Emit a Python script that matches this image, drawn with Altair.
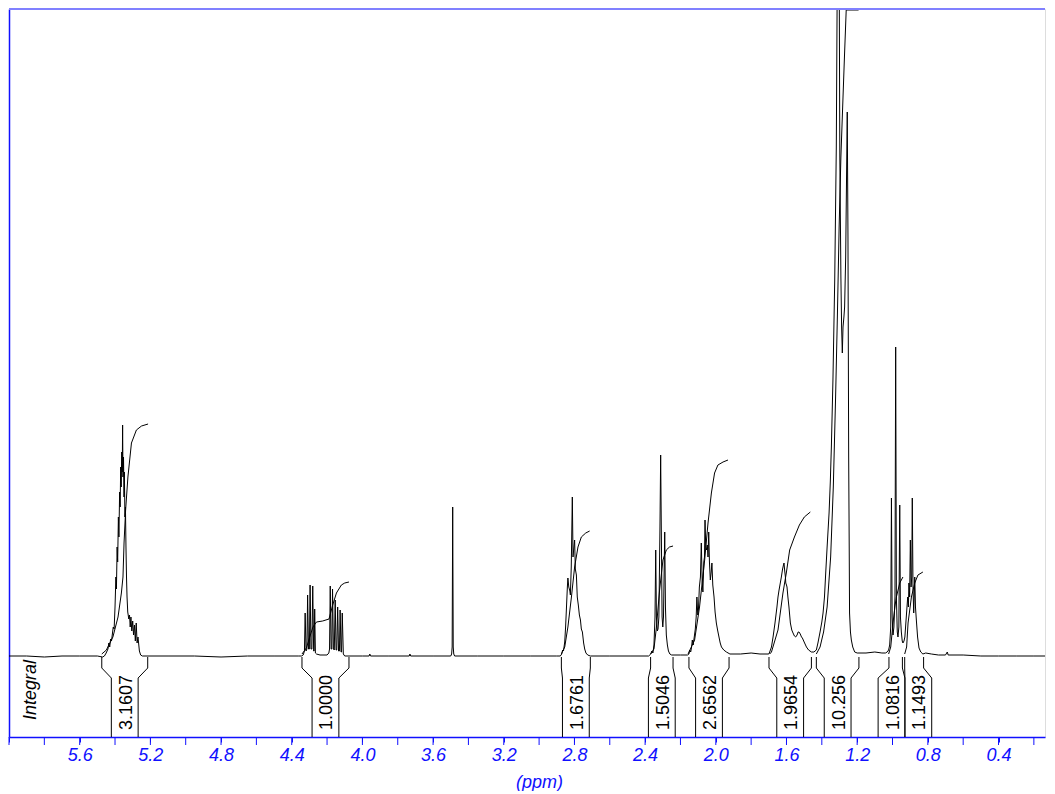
import altair as alt
import pandas as pd

# ---------------- data ----------------
spec_ppm = [6.00, 5.90, 5.80, 5.70, 5.60, 5.50,
            5.47, 5.46, 5.45, 5.44, 5.435, 5.43, 5.425, 5.42, 5.41, 5.405, 5.40, 5.395, 5.392, 5.388,
            5.385, 5.381, 5.378, 5.374, 5.371, 5.368, 5.365, 5.362, 5.359, 5.357, 5.355, 5.352, 5.349,
            5.347, 5.344, 5.341, 5.338, 5.335, 5.332, 5.328, 5.322, 5.318, 5.314, 5.310, 5.305, 5.300,
            5.295, 5.290, 5.285, 5.280, 5.275, 5.270, 5.262, 5.255, 5.245,
            5.10, 4.95, 4.80, 4.65, 4.50, 4.36,
            4.345, 4.335, 4.328, 4.324, 4.319, 4.314, 4.310, 4.305, 4.300, 4.296, 4.291, 4.286, 4.281,
            4.276, 4.273, 4.270, 4.266, 4.26, 4.24, 4.20, 4.19, 4.186, 4.182, 4.177, 4.173, 4.169, 4.164,
            4.159, 4.154, 4.149, 4.145, 4.140, 4.135, 4.130, 4.126, 4.121, 4.118, 4.114, 4.108, 4.10,
            4.00, 3.962, 3.958, 3.954, 3.85, 3.735, 3.731, 3.727, 3.60,
            3.50, 3.495, 3.492, 3.489, 3.486, 3.483, 3.478,
            3.35, 3.20, 3.05, 2.90,
            2.88, 2.872, 2.867, 2.862, 2.855, 2.850, 2.845, 2.840, 2.837, 2.832, 2.826, 2.823, 2.818,
            2.812, 2.808, 2.804, 2.799, 2.795, 2.789, 2.784, 2.778, 2.772, 2.766, 2.761, 2.755, 2.748,
            2.742, 2.735, 2.725, 2.71,
            2.60, 2.48, 2.38,
            2.368, 2.362, 2.356, 2.350, 2.344, 2.340, 2.336, 2.331, 2.327, 2.322, 2.316, 2.312, 2.308,
            2.304, 2.300, 2.296, 2.289, 2.285, 2.280, 2.274, 2.268, 2.260, 2.25, 2.20,
            2.16, 2.152, 2.148, 2.142, 2.137, 2.133, 2.128, 2.122, 2.116, 2.111, 2.107, 2.102, 2.098,
            2.093, 2.087, 2.082, 2.077, 2.073, 2.068, 2.064, 2.061, 2.057, 2.053, 2.048, 2.044, 2.040,
            2.036, 2.031, 2.026, 2.022, 2.017, 2.010, 2.004, 1.997, 1.990, 1.982, 1.975, 1.968, 1.955,
            1.940, 1.92, 1.86, 1.80, 1.75, 1.70,
            1.695, 1.685, 1.676, 1.665, 1.654, 1.648, 1.642, 1.636, 1.629, 1.622, 1.617, 1.614, 1.610,
            1.606, 1.604, 1.600, 1.597, 1.592, 1.586, 1.578, 1.570, 1.563, 1.555, 1.548, 1.540, 1.534,
            1.529, 1.522, 1.515, 1.510, 1.500, 1.487, 1.475, 1.459, 1.445,
            1.431, 1.422, 1.410, 1.400, 1.393, 1.385, 1.378, 1.370, 1.359, 1.352, 1.346, 1.337, 1.327,
            1.318, 1.312, 1.308, 1.304, 1.298, 1.292, 1.288, 1.284, 1.280, 1.275, 1.271, 1.265, 1.260,
            1.256, 1.252, 1.248, 1.245, 1.243, 1.238, 1.233, 1.225, 1.214, 1.20,
            1.15, 1.10, 1.06, 1.04,
            1.03, 1.022, 1.016, 1.010, 1.006, 1.002, 0.997, 0.992, 0.986, 0.982, 0.978, 0.973, 0.969,
            0.964, 0.959, 0.955, 0.950, 0.945, 0.941, 0.935, 0.930, 0.926, 0.920, 0.914, 0.910, 0.907,
            0.903, 0.899, 0.895, 0.891, 0.888, 0.884, 0.880, 0.877, 0.874, 0.870, 0.865, 0.858, 0.850,
            0.840, 0.828, 0.812,
            0.78, 0.74, 0.70, 0.69, 0.685, 0.60, 0.50, 0.40, 0.30, 0.20, 0.13]
spec_int = [1, 1, 0, 1, 1, 1,
            0, 1, 4, 8, 14, 10, 18, 16, 30, 28, 50, 80, 68, 110,
            95, 140, 120, 165, 150, 190, 170, 205, 185, 232, 180, 200, 160,
            185, 140, 150, 110, 80, 60, 45, 38, 42, 30, 40, 26, 36,
            22, 32, 16, 34, 14, 20, 6, 2, 1,
            1, 1, 0, 1, 1, 1,
            1, 2, 6, 44, 6, 8, 62, 8, 8, 72, 8, 8, 71,
            6, 6, 48, 4, 3, 2, 2, 4, 8, 71, 8, 8, 68, 8,
            7, 57, 7, 7, 50, 6, 6, 47, 5, 5, 44, 3, 1,
            1, 1, 3, 1, 1, 1, 3, 1, 1,
            1, 3, 10, 150, 10, 3, 1,
            1, 1, 1, 1,
            1, 3, 7, 6, 15, 30, 50, 70, 79, 70, 66, 62, 90,
            160, 100, 108, 117, 88, 82, 60, 52, 42, 37, 28, 25, 14,
            8, 4, 2, 1,
            1, 1, 1,
            3, 6, 4, 12, 40, 107, 40, 26, 28, 40, 130, 202, 120,
            40, 30, 40, 125, 50, 22, 12, 6, 3, 2, 2,
            2, 3, 7, 5, 10, 17, 12, 20, 28, 40, 60, 42, 48,
            70, 80, 114, 75, 65, 95, 100, 137, 110, 107, 112, 100, 125,
            95, 77, 85, 94, 72, 60, 45, 34, 27, 20, 14, 10, 7,
            5, 3, 3, 4, 3, 3,
            5, 10, 20, 34, 50, 60, 67, 73, 80, 88, 92, 94, 86,
            80, 74, 72, 70, 60, 50, 34, 27, 24, 21, 20, 22, 25,
            25, 23, 20, 19, 15, 10, 7, 5, 5,
            7, 14, 25, 35, 44, 60, 84, 110, 144, 175, 210, 277, 377,
            510, 700, 1000, 800, 500, 380, 330, 304, 330, 340, 350, 400, 480,
            545, 420, 200, 110, 44, 25, 17, 10, 5, 4,
            4, 5, 4, 4,
            5, 7, 12, 30, 159, 40, 22, 30, 60, 310, 60, 25, 20,
            30, 152, 40, 25, 16, 14, 16, 20, 30, 45, 60, 50, 74,
            60, 117, 70, 80, 159, 70, 44, 60, 80, 50, 37, 20, 9,
            5, 3, 4,
            3, 2, 2, 5, 2, 2, 1, 1, 1, 1, 1]

integral_labels = ["3.1607", "1.0000", "1.6761", "1.5046", "2.6562", "1.9654", "10.256", "1.0816", "1.1493"]
integral_start = [5.475, 4.342, 2.874, 2.369, 2.152, 1.699, 1.431, 1.020, 0.931]
integral_end = [5.215, 4.076, 2.710, 2.242, 1.925, 1.459, 1.190, 0.944, 0.824]

curve_ppm = [
    [5.475, 5.449, 5.412, 5.383, 5.364, 5.355, 5.349, 5.340, 5.327, 5.307, 5.279, 5.25, 5.213],
    [4.342, 4.317, 4.298, 4.280, 4.260, 4.225, 4.189, 4.168, 4.147, 4.119, 4.100, 4.076],
    [2.874, 2.855, 2.837, 2.817, 2.799, 2.780, 2.761, 2.736, 2.714],
    [2.369, 2.350, 2.336, 2.318, 2.299, 2.280, 2.262, 2.242],
    [2.157, 2.120, 2.092, 2.063, 2.044, 2.025, 2.007, 1.988, 1.959, 1.931],
    [1.695, 1.685, 1.648, 1.620, 1.601, 1.582, 1.555, 1.527, 1.499, 1.465],
    [1.431, 1.41, 1.39, 1.37, 1.35, 1.335, 1.322, 1.312, 1.302, 1.292, 1.282, 1.272, 1.262, 1.192],
    [1.022, 1.010, 0.997, 0.985, 0.978, 0.959, 0.941],
    [0.931, 0.920, 0.912, 0.893, 0.874, 0.856, 0.828],
]
curve_int = [
    [3, 7, 20, 40, 64, 80, 114, 147, 180, 214, 227, 231, 233],
    [3, 9, 20, 30, 35, 36, 38, 52, 64, 72, 74, 75],
    [3, 10, 30, 60, 90, 110, 120, 124, 126],
    [3, 8, 30, 67, 97, 107, 110, 111],
    [3, 17, 50, 97, 134, 164, 184, 192, 195, 197],
    [3, 5, 27, 64, 84, 107, 120, 132, 140, 145],
    [3, 10, 25, 50, 100, 170, 260, 340, 430, 500, 550, 600, 647, 647],
    [3, 10, 34, 52, 60, 74, 80],
    [3, 10, 34, 60, 74, 82, 85],
]

tick_values = [round(0.1 * i, 1) for i in range(2, 61)]          # every 0.1 ppm
major_tick_values = [round(0.2 * i, 1) for i in range(1, 31)]    # every 0.2 ppm

# ---------------- geometry / style ----------------
X_HI = 6.0
W, H = 1036, 728
PX_PER_PPM = 176.7
X_LO = X_HI - W / PX_PER_PPM
Y_LO, Y_HI = -80, 648
BLUE = "#1010ff"
FONT = "Liberation Sans"
LABEL_W = 26.8


def to_px(p):
    return (X_HI - p) * PX_PER_PPM


def to_ppm(x):
    return X_HI - x / PX_PER_PPM


spec_df = pd.DataFrame({"ppm": spec_ppm, "h": spec_int, "i": list(range(len(spec_ppm)))})

rows = []
for k, (pp, hh) in enumerate(zip(curve_ppm, curve_int)):
    for j, (p, h) in enumerate(zip(pp, hh)):
        rows.append({"id": k, "i": j, "ppm": p, "h": h})
curve_df = pd.DataFrame(rows)

# label centres (pixels), pushed apart where neighbours collide
centres = [(to_px(s) + to_px(e)) / 2 for s, e in zip(integral_start, integral_end)]
for k in range(len(centres) - 1):
    d = centres[k + 1] - centres[k]
    if d < LABEL_W:
        sh = (LABEL_W - d) / 2
        centres[k] -= sh
        centres[k + 1] += sh

brows = []
for k, (s, e, c) in enumerate(zip(integral_start, integral_end, centres)):
    for side, outer, inner in (("L", s, to_ppm(c - LABEL_W / 2)), ("R", e, to_ppm(c + LABEL_W / 2))):
        pts = [(outer, 0), (outer, -11), (inner, -21), (inner, -80)]
        for j, (p, h) in enumerate(pts):
            brows.append({"id": f"{k}{side}", "i": j, "ppm": p, "h": h})
bracket_df = pd.DataFrame(brows)

label_df = pd.DataFrame({"label": integral_labels, "ppm": [to_ppm(c) for c in centres]})
major_df = pd.DataFrame({"ppm": major_tick_values})

xscale = alt.Scale(domain=[X_HI, X_LO], nice=False, zero=False)
yscale = alt.Scale(domain=[Y_LO, Y_HI], nice=False, zero=False)

xaxis = alt.Axis(
    values=tick_values,
    labelExpr="(round(datum.value*10) % 4 == 0 && datum.value < 5.95) ? format(datum.value, '.1f') : ''",
    domainColor=BLUE, tickColor=BLUE, labelColor=BLUE, titleColor=BLUE,
    tickSize=5, domainWidth=1.5, tickWidth=1,
    labelFont=FONT, labelFontSize=18, labelFontStyle="italic", labelPadding=4,
    labelFlush=False, labelOverlap=False,
    title="(ppm)", titleFont=FONT, titleFontSize=18, titleFontStyle="italic",
    titleFontWeight="normal", titlePadding=9, titleX=530, grid=False,
)
yaxis = alt.Axis(domainColor=BLUE, domainWidth=1.5, ticks=False, labels=False, title=None, grid=False)

spectrum = alt.Chart(spec_df).mark_line(color="black", strokeWidth=1, clip=True).encode(
    x=alt.X("ppm:Q", scale=xscale, axis=xaxis),
    y=alt.Y("h:Q", scale=yscale, axis=yaxis),
    order="i:Q",
)

curves = alt.Chart(curve_df).mark_line(color="black", strokeWidth=1, clip=True).encode(
    x=alt.X("ppm:Q", scale=xscale),
    y=alt.Y("h:Q", scale=yscale),
    detail="id:N",
    order="i:Q",
)

brackets = alt.Chart(bracket_df).mark_line(color="black", strokeWidth=1).encode(
    x=alt.X("ppm:Q", scale=xscale),
    y=alt.Y("h:Q", scale=yscale),
    detail="id:N",
    order="i:Q",
)

major_ticks = alt.Chart(major_df).mark_rule(color=BLUE, strokeWidth=1).encode(
    x=alt.X("ppm:Q", scale=xscale),
    y=alt.value(H),
    y2=alt.value(H + 8),
)

labels = alt.Chart(label_df).mark_text(
    angle=270, align="left", baseline="middle", font=FONT, fontSize=18, color="black", dy=2
).encode(
    x=alt.X("ppm:Q", scale=xscale),
    y=alt.value(H - 7),
    text="label:N",
)

integral_word = alt.Chart(pd.DataFrame({"t": ["Integral"]})).mark_text(
    angle=270, align="left", baseline="middle", font=FONT, fontSize=18, fontStyle="italic", color="black"
).encode(x=alt.value(22), y=alt.value(H - 17), text="t:N")

top_line = alt.Chart(pd.DataFrame({"a": [0]})).mark_rule(color="#8080ff", strokeWidth=2).encode(
    x=alt.value(0), x2=alt.value(W), y=alt.value(0)
)

chart = alt.layer(spectrum, curves, brackets, major_ticks, labels, integral_word, top_line).properties(
    width=W, height=H, padding={"left": 0, "top": 0, "right": 0, "bottom": 0}
).configure_view(stroke=None).configure(background="white")

chart.save("out.html", embed_options={"renderer": "svg", "actions": False})
